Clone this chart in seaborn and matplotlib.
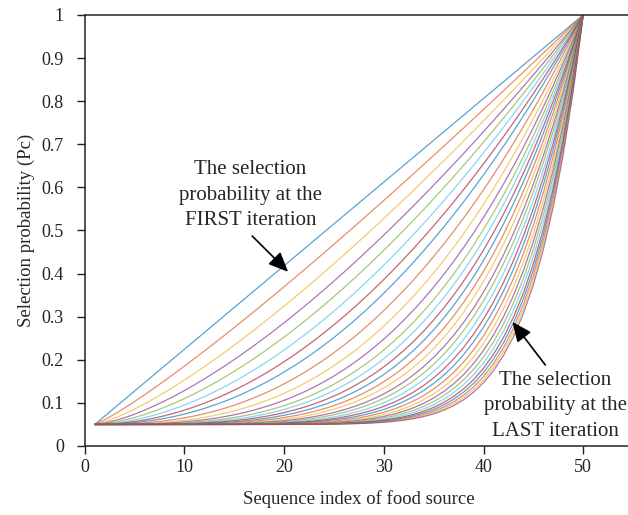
import numpy as np
import pandas as pd
import seaborn as sns
import matplotlib
matplotlib.use('Agg')
import matplotlib.pyplot as plt
from matplotlib.ticker import FuncFormatter

# food source ranks and curve exponents (one curve per iteration)
food_index = list(range(1, 51))
p_min = 0.05
p_max = 1.0
exponents = [1.00, 1.15, 1.31, 1.47, 1.63, 1.80, 1.98, 2.17, 2.44, 2.72,
             2.99, 3.25, 3.49, 3.74, 4.01, 4.31, 4.61, 4.95, 5.25, 5.60,
             5.95, 6.30, 6.70, 7.10, 7.50, 7.90, 8.30, 8.70, 9.05, 9.40,
             9.70, 10.00]

matlab_colors = ['#0072BD', '#D95319', '#EDB120', '#7E2F8E',
                 '#77AC30', '#4DBEEE', '#A2142F']

rows = []
x = np.array(food_index, dtype=float)
for it, k in enumerate(exponents):
    pc = p_min + (p_max - p_min) * ((x - 1) / (x[-1] - 1)) ** k
    for xi, yi in zip(food_index, pc):
        rows.append({'index': xi, 'pc': yi, 'iter': it})
df = pd.DataFrame(rows)
palette = [matlab_colors[i % 7] for i in range(len(exponents))]

sns.set_style('ticks')
plt.rcParams['font.family'] = ['Liberation Serif', 'DejaVu Serif']

fig = plt.figure(figsize=(6.28, 5.15), dpi=100)
ax = fig.add_axes([0.135, 0.134, 0.873, 0.837])
sns.lineplot(data=df, x='index', y='pc', hue='iter', palette=palette,
             legend=False, linewidth=0.9, alpha=0.65, ax=ax)

ax.set_xlim(0, 55)
ax.set_ylim(0, 1)
ax.set_xticks([0, 10, 20, 30, 40, 50])
ax.set_yticks(np.arange(0, 1.01, 0.1))
ax.yaxis.set_major_formatter(FuncFormatter(lambda v, p: '%g' % round(v, 1)))
ax.tick_params(direction='out', length=6, width=1, labelsize=13, colors='#222222')
ax.tick_params(axis='y', pad=9)
for s in ['left', 'bottom', 'top']:
    ax.spines[s].set_color('#222222')
    ax.spines[s].set_linewidth(1.1)
ax.spines['right'].set_visible(False)
ax.set_xlabel('Sequence index of food source', fontsize=13.5, labelpad=10)
ax.set_ylabel('Selection probability (Pc)', fontsize=13.5, labelpad=5)

arrow = dict(arrowstyle='-|>,head_length=0.8,head_width=0.35', color='black',
             lw=1.2, mutation_scale=15, shrinkA=0, shrinkB=0)

ax.text(16.6, 0.582, 'The selection\nprobability at the\nFIRST iteration',
        ha='center', va='center', fontsize=15, linespacing=1.45)
ax.annotate('', xy=(20.4, 0.404), xytext=(16.8, 0.487), arrowprops=arrow)

ax.text(47.2, 0.093, 'The selection\nprobability at the\nLAST iteration',
        ha='center', va='center', fontsize=15, linespacing=1.45)
ax.annotate('', xy=(42.9, 0.288), xytext=(46.2, 0.188), arrowprops=arrow)

fig.savefig('out.png', dpi=100)
